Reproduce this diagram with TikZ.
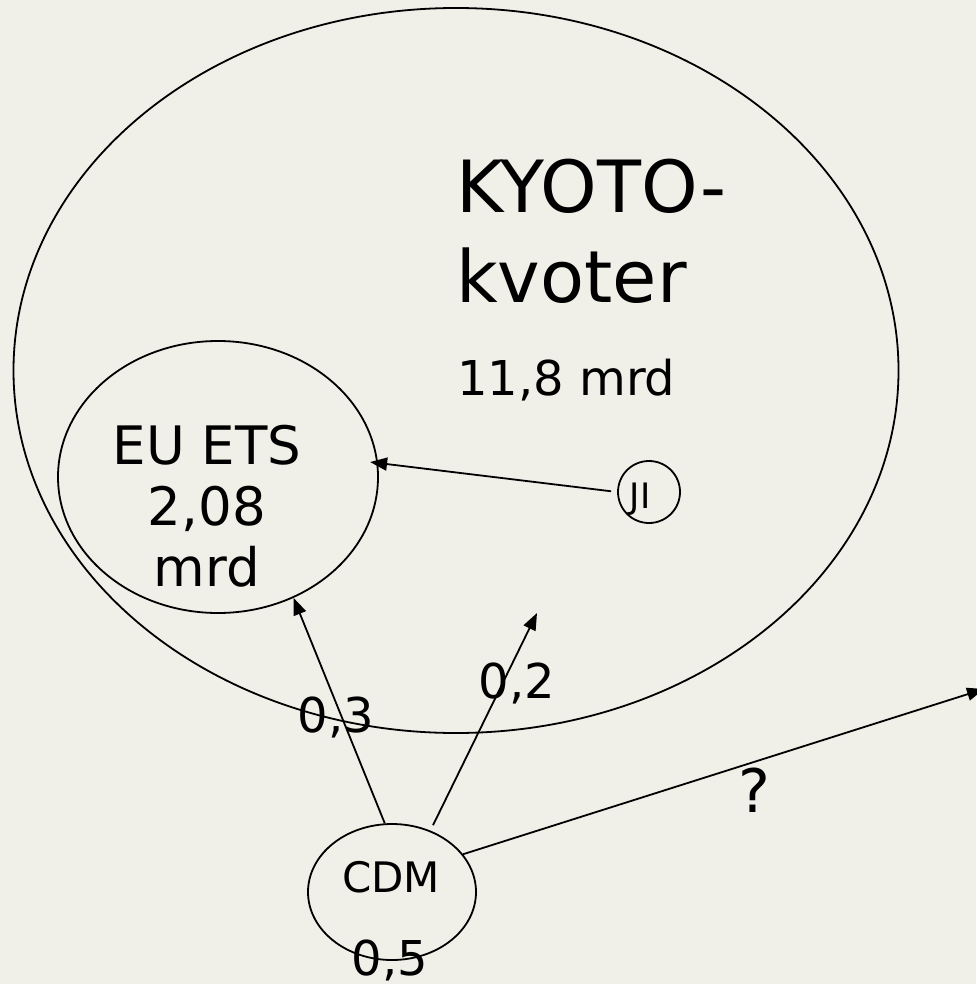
\documentclass[tikz,border=0pt]{standalone}
\usepackage{fontspec}
\setmainfont{DejaVu Sans}
\usetikzlibrary{arrows.meta,shapes.geometric}
\definecolor{paper}{RGB}{240,240,233}
\newcommand{\fsz}[1]{\fontsize{#1}{#1}\selectfont}

\begin{document}
\begin{tikzpicture}[x=1pt,y=-1pt,
    blob/.style={draw, ellipse, line width=1.8pt, inner sep=0pt},
    flow/.style={line width=1.8pt, -{Triangle[length=17pt,width=13pt]}},
    txt/.style={inner sep=0pt, anchor=base}]
  \fill [paper] (0,0) rectangle (976,984);
  \useasboundingbox (0,0) rectangle (976,984);
  % ellipses
  \node [blob, minimum width=885pt, minimum height=725pt] (kyoto) at (456,370.5) {};
  \node [blob, minimum width=320pt, minimum height=272pt] (ets) at (218,477) {};
  \node [blob, circle, minimum size=62pt] (ji) at (649,492) {};
  \node [blob, minimum width=168pt, minimum height=136pt] (cdm) at (392,892) {};
  \coordinate (kyotoin) at (537,613);
  \coordinate (offpage) at (984,689);
  % texts
  \node [txt, anchor=base west, font=\fsz{72}] (kyototitle) at (456,213) {KYOTO-};
  \node [txt, anchor=base west, font=\fsz{72}] (kvoter) at (456,302) {kvoter};
  \node [txt, anchor=base west, font=\fsz{48}] (kyotoamount) at (457,395) {11,8 mrd};
  \node [inner sep=0pt, align=center, font=\fontsize{53}{61}\selectfont]
    (etsname) at (207,506) {EU ETS\\2,08\\mrd};
  \node [txt, font=\fsz{35}] (jiname) at (640,508) {JI};
  \node [txt, font=\fsz{42}] (cdmname) at (391,892) {CDM};
  \node [txt, font=\fsz{48}] (cdmamount) at (390,975) {0,5};
  \node [txt, font=\fsz{48}] (toets) at (336,732) {0,3};
  \node [txt, font=\fsz{48}] (tokyoto) at (517,698) {0,2};
  \node [txt, font=\fsz{60}] (tooutside) at (754,812) {?};
  % flows
  \draw [flow, shorten <=6pt, shorten >=-8pt] (ji.west) -- (ets.5);
  \draw [flow] (cdm.96) -- (ets.-58);
  \draw [flow, shorten <=6pt] (cdm.58) -- (kyotoin);
  \draw [flow] (cdm.28) -- (offpage);
\end{tikzpicture}
\end{document}
